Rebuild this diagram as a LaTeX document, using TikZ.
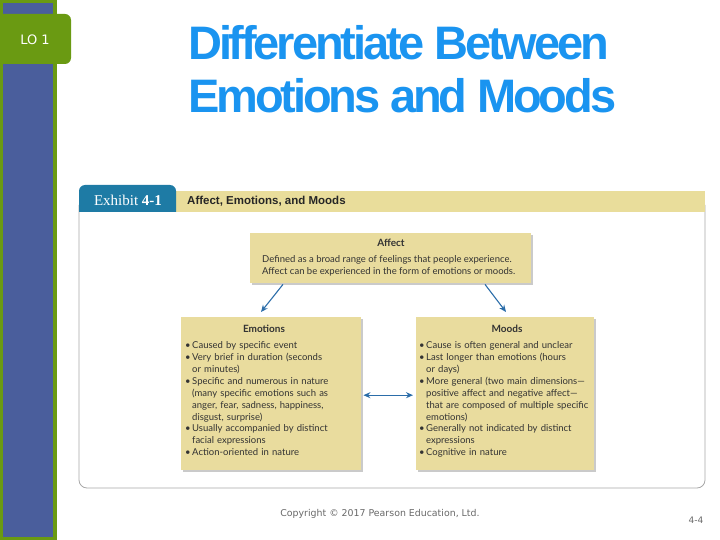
\documentclass[tikz,border=0pt]{standalone}
\usepackage{fontspec}
\setmainfont{Lato}
\newfontfamily\titlefont[LetterSpace=-6.7]{Liberation Sans}
\newfontfamily\verd{DejaVu Sans}
\newfontfamily\exfont{Liberation Serif}
\newfontfamily\capfont{Liberation Sans}
\usetikzlibrary{shadows,calc,arrows.meta}
\definecolor{barblue}{HTML}{4A5E9C}
\definecolor{bargreen}{HTML}{6A9A12}
\definecolor{titleblue}{HTML}{1A94F0}
\definecolor{exteal}{HTML}{1E7BA5}
\definecolor{bandyellow}{HTML}{E9DD9B}
\definecolor{boxyellow}{HTML}{E9DC9E}
\definecolor{arrowblue}{HTML}{2B6DA9}
\definecolor{framegray}{HTML}{A8A8A8}
\definecolor{footgray}{HTML}{686868}
\definecolor{boxtext}{HTML}{333333}
\tikzset{
  ybox/.style={fill=boxyellow, draw=none, anchor=north west, inner sep=0pt,
    drop shadow={shadow xshift=2pt, shadow yshift=-2pt, opacity=0.35, fill=black!60}},
  boxtxt/.style={anchor=north west, inner sep=0pt, text=boxtext, align=left,
    font=\fontsize{9.5}{11.9}\selectfont},
  boxhead/.style={font=\bfseries\fontsize{10}{11}\selectfont, text=boxtext},
  arr/.style={draw=arrowblue, line width=1.1pt, -{Stealth[length=7pt,width=6pt]}},
  darr/.style={draw=arrowblue, line width=1.1pt, {Stealth[length=7pt,width=6pt]}-{Stealth[length=7pt,width=6pt]}},
}
\newcommand{\bitem}[1]{\hangindent=7pt\hangafter=1\noindent\makebox[7pt][l]{\textbullet}#1\par}
\begin{document}
\begin{tikzpicture}[x=1pt,y=-1pt]
\useasboundingbox (0,0) rectangle (720,540);
% left bar
\fill[bargreen] (0,0) rectangle (57,540);
\fill[barblue] (3,3) rectangle (53,537);
\node[fill=bargreen, rounded corners=6pt, minimum width=81pt, minimum height=50pt, inner sep=0pt] (lotab) at (30.5,39) {};
\node[text=white, font=\verd\fontsize{13}{15}\selectfont] (lo) at (35,40) {LO 1};
% title
\node[anchor=base west, inner sep=0pt, text=titleblue, font=\titlefont\bfseries\fontsize{47}{54}\selectfont] (title1) at (188,60) {Differentiate Between};
\node[anchor=base west, inner sep=0pt, text=titleblue, font=\titlefont\bfseries\fontsize{47}{54}\selectfont] (title2) at (188,113) {Emotions and Moods};
% exhibit frame
\draw[framegray, line width=0.8pt, rounded corners=8pt] (79,205) -- (79,488) -- (705,488) -- (705,205);
\fill[bandyellow] (176,191) rectangle (705,212);
\fill[exteal] (79,212) [rounded corners=6pt] -- (79,185) -- (176,185) [sharp corners] -- (176,212) -- cycle;
\node[text=white, font=\exfont\fontsize{15}{17}\selectfont] (exh) at (128,200) {Exhibit \textbf{4-1}};
\node[anchor=west, text=black!85, inner sep=0pt, font=\capfont\bfseries\fontsize{11.5}{13}\selectfont] (cap) at (187,201) {Affect, Emotions, and Moods};
% boxes
\node[ybox, minimum width=281pt, minimum height=50pt] (affect) at (250,233) {};
\node[ybox, minimum width=180pt, minimum height=153pt] (emo) at (181,317) {};
\node[ybox, minimum width=178pt, minimum height=153pt] (moods) at (416,317) {};
% box texts
\node[boxhead] (affectt) at (391,243) {Affect};
\node[boxtxt] (affectb) at (262,255.5) {Defined as a broad range of feelings that people experience.\\Affect can be experienced in the form of emotions or moods.};
\node[boxhead] (emot) at (264,329) {Emotions};
\node[boxtxt, text width=174pt] (emob) at (185,341.5) {%
\bitem{Caused by specific event}
\bitem{Very brief in duration (seconds\newline or minutes)}
\bitem{Specific and numerous in nature\newline (many specific emotions such as\newline anger, fear, sadness, happiness,\newline disgust, surprise)}
\bitem{Usually accompanied by distinct\newline facial expressions}
\bitem{Action-oriented in nature}};
\node[boxhead] (moodt) at (507,329) {Moods};
\node[boxtxt, text width=174pt] (moodb) at (419,341.5) {%
\bitem{Cause is often general and unclear}
\bitem{Last longer than emotions (hours\newline or days)}
\bitem{More general (two main dimensions---\newline positive affect and negative affect---\newline that are composed of multiple specific\newline emotions)}
\bitem{Generally not indicated by distinct\newline expressions}
\bitem{Cognitive in nature}};
% arrows
\draw[arr] ($(affect.south west)+(33,1)$) -- ($(emo.north west)+(80,-5)$);
\draw[arr] ($(affect.south west)+(235,1)$) -- ($(moods.north west)+(90,-5)$);
\draw[darr] ($(emo.east)+(2,1.5)$) -- ($(moods.west)+(-3,1.5)$);
% footer
\node[text=footgray, font=\verd\fontsize{9.4}{11}\selectfont] (copy) at (380,514) {Copyright © 2017 Pearson Education, Ltd.};
\node[text=footgray, font=\verd\fontsize{9}{10}\selectfont] (pg) at (696,520) {4-4};
\end{tikzpicture}
\end{document}
